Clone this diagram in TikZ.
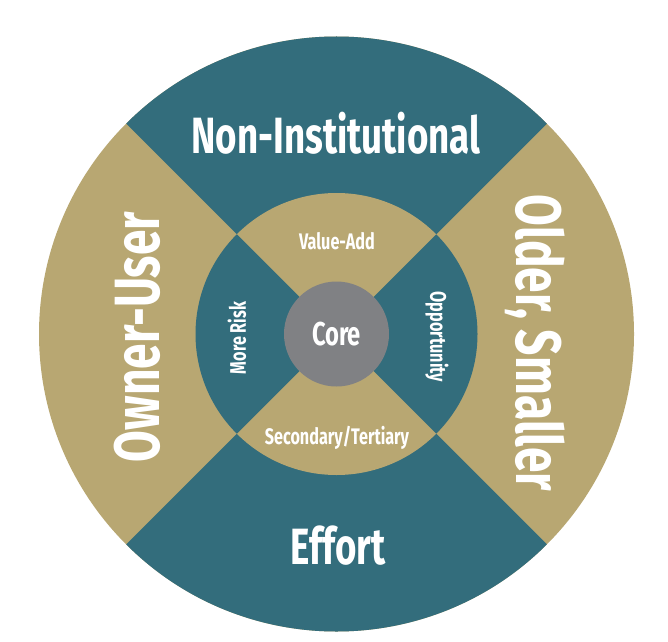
\documentclass[tikz,border=0pt]{standalone}
\usepackage{fontspec}
\newfontfamily\dinfont{Fira Sans}[FakeStretch=0.72]
\definecolor{tealc}{HTML}{336D7C}
\definecolor{goldc}{HTML}{B8A772}
\definecolor{corec}{HTML}{808184}
\tikzset{
    bigtext/.style={text=white, font=\dinfont\bfseries\fontsize{51}{51}\selectfont},
    sidetext/.style={text=white, font=\dinfont\bfseries\fontsize{64}{64}\selectfont},
    midtext/.style={text=white, font=\dinfont\bfseries\fontsize{22.5}{22.5}\selectfont},
    coretext/.style={text=white, font=\dinfont\bfseries\fontsize{33}{33}\selectfont}
}
\begin{document}
\begin{tikzpicture}[x=1pt,y=1pt]
    \useasboundingbox (0,0) rectangle (668,641);
    \coordinate (c) at (336.5,307);
    \fill[goldc] (c) circle (297.5);
    \fill[tealc] (c) -- ++(45:297.5) arc (45:135:297.5) -- cycle;
    \fill[tealc] (c) -- ++(225:297.5) arc (225:315:297.5) -- cycle;
    \fill[goldc] (c) circle (141);
    \fill[tealc] (c) -- ++(135:141) arc (135:225:141) -- cycle;
    \fill[tealc] (c) -- ++(-45:141) arc (-45:45:141) -- cycle;
    \fill[corec] (c) circle (52.5);
    \node[bigtext] (noninst) at (336,508) {Non-Institutional};
    \node[bigtext] (effort) at (338,95) {Effort};
    \node[sidetext, rotate=90] (owner) at (137,304) {Owner-User};
    \node[sidetext, rotate=-90] (older) at (535,298) {Older, Smaller};
    \node[midtext] (valueadd) at (337,400) {Value-Add};
    \node[midtext] (secondary) at (337,203) {Secondary/Tertiary};
    \node[midtext, rotate=90] (morerisk) at (237,303) {More Risk};
    \node[midtext, rotate=-90] (opportunity) at (437,304) {Opportunity};
    \node[coretext] (core) at (c) {Core};
\end{tikzpicture}
\end{document}
